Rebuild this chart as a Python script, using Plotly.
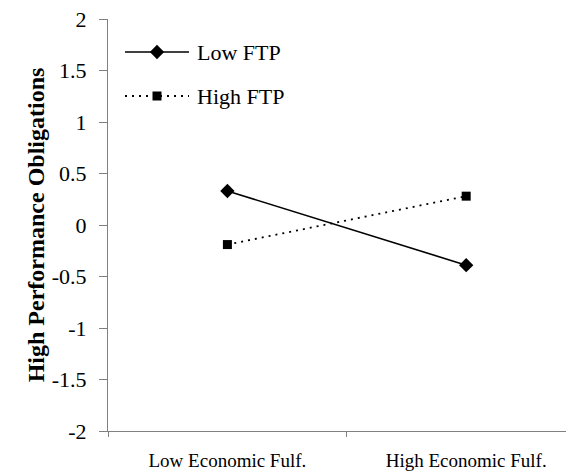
import plotly.graph_objects as go

categories = ["Low Economic Fulf.", "High Economic Fulf."]
low_ftp = [0.33, -0.39]
high_ftp = [-0.19, 0.28]
y_ticks = [2, 1.5, 1, 0.5, 0, -0.5, -1, -1.5, -2]
y_tick_labels = ["2", "1.5", "1", "0.5", "0", "-0.5", "-1", "-1.5", "-2"]
series_names = ["Low FTP", "High FTP"]

font_family = "Liberation Serif, Times New Roman, serif"
W, H = 574, 472
OFF = 8  # page body margin offset
L, R, T, B = 100, 0, 11, 49
# plot area in screen pixels
PX0, PX1 = L + OFF, W + OFF - R
PY0, PY1 = T + OFF, H + OFF - B

fig = go.Figure()
fig.add_trace(go.Scatter(
    x=categories, y=low_ftp, name=series_names[0], mode="lines+markers",
    line=dict(color="black", width=1.6, dash="solid"),
    marker=dict(symbol="diamond", size=11, color="black"),
    showlegend=False,
))
fig.add_trace(go.Scatter(
    x=categories, y=high_ftp, name=series_names[1], mode="lines+markers",
    line=dict(color="black", width=1.8, dash="2px,5px"),
    marker=dict(symbol="square", size=9, color="black"),
    showlegend=False,
))

# custom legend drawn on an overlay axis measured in screen pixels
leg_x = [125, 189]
leg_rows = [52, 96]
styles = [("solid", "diamond", 11, 1.6), ("2px,5px", "square", 9, 1.8)]
for name, yy, (dash, sym, msz, lw) in zip(series_names, leg_rows, styles):
    fig.add_trace(go.Scatter(
        x=leg_x, y=[yy, yy], xaxis="x2", yaxis="y2", mode="lines",
        line=dict(color="black", width=lw, dash=dash), showlegend=False,
        hoverinfo="skip",
    ))
    fig.add_trace(go.Scatter(
        x=[sum(leg_x) / 2], y=[yy], xaxis="x2", yaxis="y2", mode="markers",
        marker=dict(symbol=sym, size=msz, color="black"), showlegend=False,
        hoverinfo="skip",
    ))
    fig.add_annotation(
        x=leg_x[1] + 6, y=yy, xref="x2", yref="y2", text=name,
        showarrow=False, xanchor="left", yanchor="middle",
        font=dict(size=22, family=font_family, color="black"),
    )

fig.update_layout(
    width=W, height=H,
    margin=dict(l=L, r=R, t=T, b=B),
    paper_bgcolor="white", plot_bgcolor="white",
    font=dict(family=font_family, color="black"),
    showlegend=False,
    xaxis=dict(
        type="category", range=[-0.5, 1.485], automargin=False,
        showline=True, linecolor="#808080", linewidth=1,
        ticks="outside", tickson="boundaries", ticklen=5, tickcolor="#808080",
        showgrid=False, zeroline=False,
        tickfont=dict(size=19, family=font_family, color="black"),
        ticklabelstandoff=12, ticklabeloverflow="allow",
    ),
    yaxis=dict(
        range=[-2, 2], tickvals=y_ticks, ticktext=y_tick_labels, automargin=False,
        showline=True, linecolor="#808080", linewidth=1,
        ticks="outside", ticklen=8, tickcolor="#808080",
        showgrid=False, zeroline=False,
        tickfont=dict(size=22, family=font_family, color="black"),
        ticklabelstandoff=8, ticklabeloverflow="allow",
        title=dict(text="<b>High Performance Obligations</b>",
                   font=dict(size=24, family=font_family, color="black"),
                   standoff=0),
    ),
    xaxis2=dict(range=[PX0, PX1], overlaying="x", visible=False, fixedrange=True),
    yaxis2=dict(range=[PY1, PY0], overlaying="y", visible=False, fixedrange=True),
)

fig.write_html("out.html")
